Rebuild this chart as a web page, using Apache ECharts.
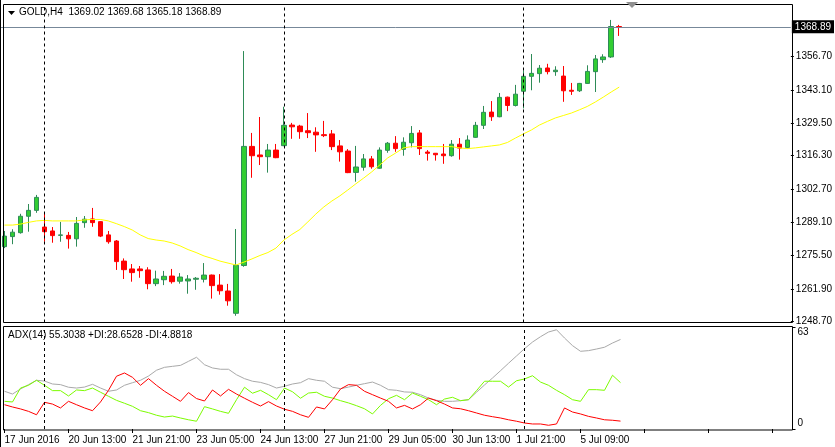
<!DOCTYPE html>
<html>
<head>
<meta charset="utf-8">
<title>GOLD,H4</title>
<script src="https://cdn.jsdelivr.net/npm/echarts@6/dist/echarts.min.js"></script>
<style>
  html, body { margin: 0; padding: 0; background: #fff; }
  #chart { width: 835px; height: 447px; }
</style>
</head>
<body>
<div id="chart"></div>
<script>
// H4 bars, 17 Jun 2016 .. 6 Jul 2016
const categories = [
  '17 Jun 05:00', '17 Jun 09:00', '17 Jun 13:00', '17 Jun 17:00', '17 Jun 21:00',
  '20 Jun 01:00', '20 Jun 05:00', '20 Jun 09:00', '20 Jun 13:00', '20 Jun 17:00', '20 Jun 21:00',
  '21 Jun 01:00', '21 Jun 05:00', '21 Jun 09:00', '21 Jun 13:00', '21 Jun 17:00', '21 Jun 21:00',
  '22 Jun 01:00', '22 Jun 05:00', '22 Jun 09:00', '22 Jun 13:00', '22 Jun 17:00', '22 Jun 21:00',
  '23 Jun 01:00', '23 Jun 05:00', '23 Jun 09:00', '23 Jun 13:00', '23 Jun 17:00', '23 Jun 21:00',
  '24 Jun 01:00', '24 Jun 05:00', '24 Jun 09:00', '24 Jun 13:00', '24 Jun 17:00', '24 Jun 21:00',
  '27 Jun 01:00', '27 Jun 05:00', '27 Jun 09:00', '27 Jun 13:00', '27 Jun 17:00', '27 Jun 21:00',
  '28 Jun 01:00', '28 Jun 05:00', '28 Jun 09:00', '28 Jun 13:00', '28 Jun 17:00', '28 Jun 21:00',
  '29 Jun 01:00', '29 Jun 05:00', '29 Jun 09:00', '29 Jun 13:00', '29 Jun 17:00', '29 Jun 21:00',
  '30 Jun 01:00', '30 Jun 05:00', '30 Jun 09:00', '30 Jun 13:00', '30 Jun 17:00', '30 Jun 21:00',
  '1 Jul 01:00', '1 Jul 05:00', '1 Jul 09:00', '1 Jul 13:00', '1 Jul 17:00', '1 Jul 21:00',
  '4 Jul 01:00', '4 Jul 05:00', '4 Jul 09:00', '4 Jul 13:00', '4 Jul 17:00',
  '5 Jul 01:00', '5 Jul 05:00', '5 Jul 09:00', '5 Jul 13:00', '5 Jul 17:00', '5 Jul 21:00',
  '6 Jul 01:00', '6 Jul 05:00'
];
const firstLabel = '17 Jun 2016';
const weekStarts = ['20 Jun 01:00', '27 Jun 01:00', '4 Jul 01:00'];

const openPrices = [
  1279.2, 1283.3, 1284.9, 1291.6, 1294.0, 1287.2, 1285.6, 1283.8, 1283.8, 1282.4,
  1289.0, 1290.5, 1289.4, 1284.0, 1281.5, 1273.3, 1270.1, 1270.1, 1269.7, 1264.1,
  1265.7, 1267.2, 1265.1, 1265.2, 1265.9, 1265.9, 1267.6, 1263.5, 1261.1, 1252.0,
  1271.5, 1320.1, 1316.6, 1315.9, 1318.6, 1320.4, 1328.8, 1328.4, 1326.5, 1325.9,
  1324.9, 1325.2, 1320.3, 1318.2, 1309.5, 1311.6, 1315.0, 1311.2, 1318.5, 1321.4,
  1318.9, 1321.6, 1325.6, 1317.8, 1317.3, 1317.0, 1316.3, 1321.0, 1319.7, 1323.8,
  1328.7, 1334.1, 1332.2, 1340.2, 1336.8, 1342.6, 1348.7, 1349.8, 1352.1, 1350.6,
  1348.8, 1343.0, 1342.8, 1345.8, 1350.6, 1355.5, 1356.6, 1369.02
];
const closePrices = [
  1283.5, 1285.1, 1291.6, 1294.0, 1299.3, 1285.3, 1283.7, 1284.0, 1282.4, 1288.7,
  1290.4, 1289.0, 1283.5, 1281.2, 1273.1, 1269.8, 1268.6, 1269.4, 1264.1, 1266.0,
  1267.1, 1264.9, 1266.8, 1266.0, 1266.3, 1267.6, 1263.3, 1261.2, 1257.1, 1271.6,
  1320.1, 1316.3, 1315.9, 1318.6, 1315.5, 1328.7, 1328.1, 1326.1, 1325.7, 1324.8,
  1324.5, 1320.0, 1317.9, 1309.4, 1311.7, 1315.0, 1311.8, 1318.6, 1321.4, 1319.2,
  1321.8, 1325.4, 1319.2, 1317.3, 1316.7, 1316.3, 1321.0, 1319.4, 1322.7, 1328.7,
  1334.0, 1332.2, 1340.1, 1336.8, 1341.4, 1348.7, 1349.9, 1352.0, 1350.6, 1351.2,
  1342.8, 1342.6, 1345.8, 1350.7, 1355.8, 1356.6, 1369.0, 1368.89
];
const lowPrices = [
  1278.6, 1280.2, 1284.5, 1285.3, 1293.0, 1281.2, 1280.8, 1281.2, 1278.4, 1279.2,
  1286.9, 1287.3, 1283.1, 1280.4, 1269.7, 1266.0, 1264.9, 1266.5, 1261.8, 1263.1,
  1263.5, 1264.1, 1264.1, 1260.0, 1261.6, 1264.6, 1258.0, 1259.6, 1255.1, 1251.0,
  1271.0, 1307.3, 1312.5, 1309.4, 1315.3, 1320.2, 1323.2, 1323.2, 1323.5, 1317.9,
  1323.9, 1318.6, 1313.9, 1309.2, 1305.7, 1310.2, 1311.0, 1311.0, 1317.5, 1317.9,
  1316.3, 1319.7, 1316.6, 1314.3, 1314.3, 1313.0, 1315.9, 1314.7, 1319.3, 1323.6,
  1327.2, 1330.5, 1332.0, 1334.5, 1336.4, 1335.6, 1343.0, 1346.1, 1349.5, 1348.9,
  1338.3, 1341.1, 1342.3, 1345.6, 1342.3, 1354.2, 1356.2, 1365.18
];
const highPrices = [
  1285.6, 1286.3, 1292.6, 1296.6, 1300.3, 1292.8, 1287.2, 1289.3, 1285.2, 1291.3,
  1291.7, 1295.0, 1289.6, 1285.6, 1281.9, 1274.4, 1272.1, 1271.3, 1270.8, 1269.4,
  1269.3, 1270.1, 1268.4, 1267.6, 1266.8, 1272.5, 1267.8, 1268.0, 1264.0, 1286.4,
  1359.0, 1325.6, 1332.1, 1321.1, 1321.1, 1336.3, 1329.7, 1328.9, 1333.7, 1327.9,
  1330.5, 1326.8, 1322.7, 1319.0, 1320.3, 1317.0, 1316.2, 1319.7, 1321.9, 1324.3,
  1323.8, 1328.4, 1326.8, 1318.6, 1317.4, 1321.1, 1322.7, 1323.5, 1324.6, 1330.1,
  1336.6, 1338.6, 1341.9, 1340.4, 1345.2, 1351.1, 1357.8, 1353.3, 1353.8, 1352.8,
  1352.9, 1346.0, 1346.0, 1353.2, 1357.4, 1357.7, 1371.7, 1369.68
];
// yellow moving average
const maValues = [
  1288.0, 1288.0, 1288.4, 1289.1, 1289.7, 1289.9, 1289.7, 1289.7, 1289.7, 1289.7,
  1290.1, 1290.3, 1290.3, 1289.7, 1288.6, 1287.4, 1286.0, 1284.0, 1282.5, 1281.9,
  1281.5, 1280.7, 1279.5, 1278.0, 1276.8, 1275.4, 1274.4, 1273.3, 1272.5, 1271.7,
  1272.9, 1274.2, 1275.6, 1276.8, 1278.6, 1281.9, 1284.2, 1286.2, 1289.3, 1292.5,
  1295.4, 1297.8, 1299.9, 1302.3, 1304.8, 1307.2, 1309.7, 1312.5, 1315.4, 1317.4,
  1319.5, 1320.0, 1320.0, 1320.0, 1320.0, 1320.0, 1320.0, 1319.5, 1319.2, 1319.5,
  1319.9, 1320.3, 1320.7, 1321.7, 1323.5, 1325.2, 1326.8, 1328.8, 1330.3, 1331.7,
  1332.7, 1333.7, 1335.0, 1336.4, 1338.2, 1340.2, 1342.3, 1344.3
];
// ADX(14) pane
const adxValues = [
  23.3, 21.6, 24.7, 27.4, 30.1, 29.6, 27.8, 27.4, 25.8, 25.3,
  25.9, 27.6, 25.3, 23.3, 24.1, 27.0, 28.6, 30.1, 32.7, 36.3,
  38.1, 38.7, 39.3, 41.8, 44.3, 39.7, 37.7, 36.9, 36.9, 33.5,
  31.1, 29.5, 28.8, 27.4, 25.3, 26.4, 27.8, 28.6, 31.1, 30.1,
  29.5, 25.8, 24.9, 25.9, 27.0, 28.0, 29.0, 27.0, 24.3, 23.9,
  22.9, 22.7, 21.2, 19.1, 17.7, 17.1, 17.1, 17.5, 18.1, 22.7,
  27.2, 31.5, 36.0, 40.6, 45.1, 49.6, 53.7, 57.0, 59.9, 61.3,
  56.2, 51.5, 48.0, 48.4, 49.4, 50.5, 53.1, 55.3
];
const plusDi = [
  17.1, 16.7, 25.3, 27.0, 30.1, 27.0, 23.7, 23.7, 20.4, 24.1,
  23.7, 25.3, 22.7, 20.2, 17.7, 15.9, 14.0, 11.3, 10.1, 8.5,
  7.4, 8.0, 6.8, 5.7, 4.8, 13.8, 12.4, 10.9, 9.7, 18.1,
  25.8, 22.1, 23.9, 21.2, 18.1, 25.3, 23.0, 19.0, 22.2, 22.7,
  20.2, 19.1, 17.5, 16.1, 14.4, 12.5, 9.3, 14.6, 18.7, 20.8,
  18.1, 22.2, 20.2, 18.1, 15.0, 18.5, 19.6, 17.5, 18.1, 23.7,
  29.5, 29.5, 29.5, 25.9, 29.8, 30.9, 32.9, 29.0, 27.0, 23.9,
  21.2, 18.1, 17.1, 24.3, 24.3, 23.9, 33.2, 28.65
];
const minusDi = [
  15.0, 13.6, 12.4, 10.9, 8.8, 16.5, 15.4, 13.0, 17.1, 15.0,
  13.0, 11.3, 16.7, 23.9, 32.6, 34.6, 31.9, 27.0, 31.1, 27.0,
  23.3, 20.2, 17.1, 22.5, 18.8, 17.3, 24.1, 20.4, 24.5, 21.6,
  19.0, 16.5, 14.2, 16.9, 14.2, 12.2, 10.9, 8.8, 7.2, 13.6,
  12.4, 18.1, 24.7, 27.4, 27.0, 23.3, 21.2, 19.1, 17.1, 13.0,
  14.6, 12.4, 15.0, 19.1, 17.5, 15.4, 13.0, 12.5, 11.3, 9.9,
  8.5, 7.6, 6.8, 5.7, 4.8, 3.7, 3.1, 3.1, 2.3, 3.1,
  13.0, 10.5, 9.3, 7.8, 6.8, 5.7, 5.4, 4.88
];
const adxLegend = 'ADX(14) 55.3038 +DI:28.6528 -DI:4.8818';

// tick labels
const priceTicks = [1248.70, 1261.90, 1275.50, 1289.10, 1302.70, 1316.30, 1329.50, 1343.10, 1356.70];
const adxTicks = [0, 63];

const FONT = 'Liberation Sans, Arial, sans-serif';
const last = categories.length - 1;

// empty slots to the right (chart shift area)
const slots = categories.slice();
for (let k = 0; k < 21; k++) slots.push('pad' + k);

const candles = categories.map((c, i) => [openPrices[i], closePrices[i], lowPrices[i], highPrices[i]]);

const separatorStyle = { color: '#000', type: [3, 3], width: 1 };
const separators = weekStarts.map(d => ({ xAxis: d, lineStyle: separatorStyle, label: { show: false } }));

const chart = echarts.init(document.getElementById('chart'));

chart.setOption({
  animation: false,
  backgroundColor: '#fff',
  textStyle: { fontFamily: FONT },
  title: [
    {
      text: 'GOLD,H4  ' + [openPrices[last], highPrices[last], lowPrices[last], closePrices[last]]
        .map(v => v.toFixed(2)).join(' '),
      left: 19, top: 7, padding: 0,
      textStyle: { fontSize: 10, fontWeight: 'normal', color: '#000', fontFamily: FONT }
    },
    {
      text: adxLegend,
      left: 8, top: 330, padding: 0,
      textStyle: { fontSize: 10, fontWeight: 'normal', color: '#000', fontFamily: FONT }
    }
  ],
  grid: [
    { left: 0.5, top: 4.5, width: 792, height: 318, show: false },
    { left: 0.5, top: 327, width: 792, height: 102, show: false }
  ],
  xAxis: [
    {
      type: 'category', gridIndex: 0, data: slots, boundaryGap: true,
      axisLine: { show: false }, axisTick: { show: false },
      axisLabel: { show: false }, splitLine: { show: false }
    },
    {
      type: 'category', gridIndex: 1, data: slots, boundaryGap: true,
      axisLine: { show: false },
      axisTick: { show: true, interval: 7, alignWithLabel: true, length: 4, lineStyle: { color: '#000' } },
      axisLabel: {
        interval: 7, align: 'left', margin: 6, fontSize: 10, color: '#000', fontFamily: FONT,
        formatter: (v, i) => i === 0 ? firstLabel : (i < categories.length ? v : '')
      },
      splitLine: { show: false }
    }
  ],
  yAxis: [
    {
      type: 'value', gridIndex: 0, position: 'right', min: 1248.25, max: 1378.0,
      splitLine: { show: false }, axisLine: { show: false },
      axisTick: { show: true, customValues: priceTicks, length: 3, lineStyle: { color: '#000' } },
      axisLabel: {
        customValues: priceTicks, margin: 5, fontSize: 10, color: '#000', fontFamily: FONT,
        formatter: v => v.toFixed(2)
      }
    },
    {
      type: 'value', gridIndex: 1, position: 'right', min: 0, max: 63,
      splitLine: { show: false }, axisLine: { show: false },
      axisTick: { show: true, customValues: adxTicks, length: 3, lineStyle: { color: '#000' } },
      axisLabel: {
        customValues: adxTicks, margin: 5, fontSize: 10, color: '#000', fontFamily: FONT,
        formatter: v => v === 0 ? '{bot|0}' : '{top|' + v + '}',
        rich: {
          top: { fontSize: 10, fontFamily: FONT, color: '#000', padding: [11, 0, 0, 0] },
          bot: { fontSize: 10, fontFamily: FONT, color: '#000', padding: [0, 0, 11, 0] }
        }
      }
    }
  ],
  series: [
    {
      name: 'GOLD', type: 'candlestick', xAxisIndex: 0, yAxisIndex: 0,
      data: candles, barWidth: 5,
      itemStyle: {
        color: '#32CD32', color0: '#FF0000',
        borderColor: '#2E8B57', borderColor0: '#FF0000', borderWidth: 1
      },
      markLine: {
        silent: true, symbol: ['none', 'none'], animation: false,
        data: [
          {
            yAxis: closePrices[last],
            lineStyle: { color: '#778899', type: 'solid', width: 1 },
            label: {
              show: true, position: 'end', distance: 1,
              formatter: closePrices[last].toFixed(2),
              color: '#fff', backgroundColor: '#000', padding: [2, 3, 1, 3],
              fontSize: 10, fontFamily: FONT
            }
          }
        ].concat(separators)
      }
    },
    {
      name: 'MA', type: 'line', xAxisIndex: 0, yAxisIndex: 0,
      data: maValues, symbol: 'none',
      lineStyle: { color: '#FFFF00', width: 1 }
    },
    {
      name: 'ADX', type: 'line', xAxisIndex: 1, yAxisIndex: 1,
      data: adxValues, symbol: 'none',
      lineStyle: { color: '#A9A9A9', width: 1 },
      markLine: { silent: true, symbol: ['none', 'none'], animation: false, data: separators }
    },
    {
      name: '+DI', type: 'line', xAxisIndex: 1, yAxisIndex: 1,
      data: plusDi, symbol: 'none',
      lineStyle: { color: '#7CFC00', width: 1 }
    },
    {
      name: '-DI', type: 'line', xAxisIndex: 1, yAxisIndex: 1,
      data: minusDi, symbol: 'none',
      lineStyle: { color: '#FF0000', width: 1 }
    }
  ],
  graphic: [
    { type: 'rect', silent: true, z: 100, shape: { x: 3.5, y: 4.5, width: 789, height: 318 },
      style: { fill: 'none', stroke: '#000', lineWidth: 1 } },
    { type: 'rect', silent: true, z: 100, shape: { x: 3.5, y: 326.5, width: 789, height: 103.5 },
      style: { fill: 'none', stroke: '#000', lineWidth: 1 } },
    { type: 'line', silent: true, z: 100, shape: { x1: 0.5, y1: 0, x2: 0.5, y2: 447 },
      style: { stroke: '#000', lineWidth: 1 } },
    { type: 'polygon', silent: true, z: 100, shape: { points: [[8, 11], [15, 11], [11.5, 15]] },
      style: { fill: '#000' } },
    { type: 'polygon', silent: true, z: 100, shape: { points: [[626, 2], [638, 2], [632, 8]] },
      style: { fill: '#909090' } }
  ]
});
</script>
</body>
</html>
